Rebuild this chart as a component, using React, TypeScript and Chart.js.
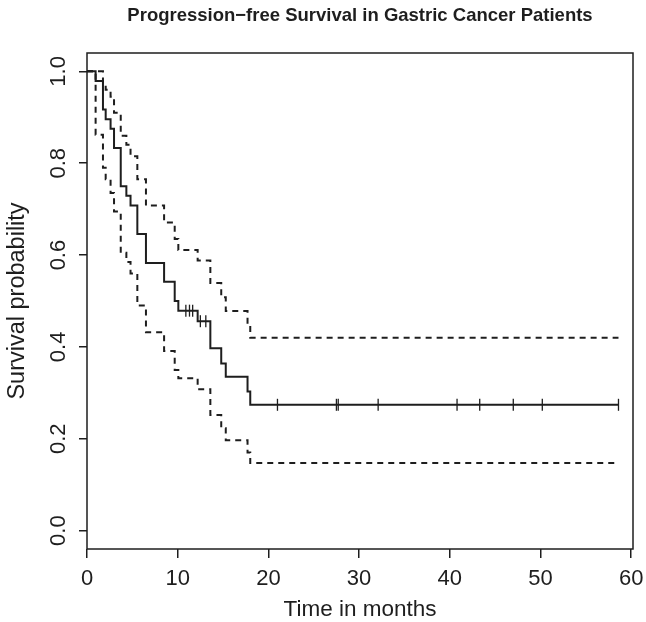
import React, { useEffect, useRef } from 'react';
import { Chart, registerables } from 'chart.js';

Chart.register(...registerables);

const TITLE = 'Progression\u2212free Survival in Gastric Cancer Patients';
const X_LABEL = 'Time in months';
const Y_LABEL = 'Survival probability';

const X_TICKS = [0, 10, 20, 30, 40, 50, 60];
const Y_TICKS = [0, 0.2, 0.4, 0.6, 0.8, 1.0];
const Y_TICK_LABELS = ['0.0', '0.2', '0.4', '0.6', '0.8', '1.0'];

// Kaplan-Meier step points (time in months)
const eventTimes = [0, 0.95, 1.76, 2.06, 2.6, 2.98, 3.72, 4.34, 4.8, 5.55, 6.5, 8.5, 9.67, 10.07, 12.2, 13.6, 14.8, 15.3, 17.7, 18.0, 58.6];
const survival = [1.0, 0.979, 0.917, 0.896, 0.875, 0.833, 0.75, 0.729, 0.708, 0.646, 0.583, 0.542, 0.5, 0.479, 0.456, 0.397, 0.364, 0.335, 0.303, 0.274, 0.274];
const upperCI = [1.0, 1.0, 0.975, 0.96, 0.945, 0.91, 0.86, 0.84, 0.815, 0.765, 0.708, 0.671, 0.635, 0.611, 0.588, 0.539, 0.508, 0.478, 0.45, 0.42, 0.42];
const lowerCI = [1.0, 0.862, 0.79, 0.765, 0.735, 0.695, 0.605, 0.585, 0.56, 0.49, 0.432, 0.391, 0.35, 0.332, 0.308, 0.252, 0.223, 0.197, 0.17, 0.147, 0.147];

// censoring times
const censorTimes = [10.9, 11.3, 11.65, 12.5, 13.1, 21.0, 27.5, 27.7, 32.1, 40.8, 43.3, 47.0, 50.2, 58.6];

const X_MIN = 0;
const X_MAX = 60.2;
const Y_MIN = -0.04;
const Y_MAX = 1.04;

export default function App() {
  const ref = useRef<HTMLCanvasElement>(null);

  useEffect(() => {
    document.body.style.margin = '0';
    const canvas = ref.current;
    if (!canvas) return;
    const ink = '#1e1e1e';
    const font = '"Liberation Sans", Arial, sans-serif';

    const toPts = (ys: number[]) => eventTimes.map((t, i) => ({ x: t, y: ys[i] }));
    const survAt = (t: number) => {
      let v = survival[0];
      for (let i = 0; i < eventTimes.length; i++) if (eventTimes[i] <= t) v = survival[i];
      return v;
    };

    const textPlugin = {
      id: 'rtext',
      afterDraw(chart: any) {
        const { ctx, chartArea: a, scales } = chart;
        ctx.save();
        ctx.strokeStyle = ink;
        ctx.lineWidth = 1.5;
        ctx.strokeRect(a.left, a.top, a.right - a.left, a.bottom - a.top);
        ctx.fillStyle = ink;
        const cx = (a.left + a.right) / 2;
        ctx.textAlign = 'center';
        ctx.textBaseline = 'alphabetic';
        ctx.font = `bold 18.5px ${font}`;
        ctx.fillText(TITLE, cx, 21);
        ctx.font = `22px ${font}`;
        X_TICKS.forEach((v) => ctx.fillText(String(v), scales.x.getPixelForValue(v), 585));
        Y_TICKS.forEach((v, i) => {
          ctx.save();
          ctx.translate(65, scales.y.getPixelForValue(v));
          ctx.rotate(-Math.PI / 2);
          ctx.fillText(Y_TICK_LABELS[i], 0, 0);
          ctx.restore();
        });
        ctx.font = `22.5px ${font}`;
        ctx.fillText(X_LABEL, cx, 616);
        ctx.font = `23.5px ${font}`;
        ctx.save();
        ctx.translate(24, (a.top + a.bottom) / 2);
        ctx.rotate(-Math.PI / 2);
        ctx.fillText(Y_LABEL, 0, 0);
        ctx.restore();
        ctx.restore();
      },
    };

    const chart = new Chart(canvas, {
      type: 'line',
      data: {
        datasets: [
          {
            label: 'Survival',
            data: toPts(survival),
            stepped: true,
            borderColor: ink,
            borderWidth: 2,
            pointRadius: 0,
            fill: false,
          },
          {
            label: 'Upper 95% CI',
            data: toPts(upperCI),
            stepped: true,
            borderColor: ink,
            borderWidth: 2,
            borderDash: [6, 5],
            pointRadius: 0,
            fill: false,
          },
          {
            label: 'Lower 95% CI',
            data: toPts(lowerCI),
            stepped: true,
            borderColor: ink,
            borderWidth: 2,
            borderDash: [6, 5],
            pointRadius: 0,
            fill: false,
          },
          {
            type: 'scatter',
            label: 'Censored',
            data: censorTimes.map((t) => ({ x: t, y: survAt(t) })),
            showLine: false,
            pointStyle: 'line',
            rotation: 90,
            pointRadius: 6,
            borderColor: ink,
            borderWidth: 1.3,
          } as any,
        ],
      },
      options: {
        responsive: false,
        animation: false,
        layout: { padding: { top: 53, left: 0, right: 13, bottom: 0 } },
        plugins: {
          legend: { display: false },
          title: { display: false },
          tooltip: { enabled: false },
        },
        scales: {
          x: {
            type: 'linear',
            min: X_MIN,
            max: X_MAX,
            afterBuildTicks: (s: any) => {
              s.ticks = X_TICKS.map((v) => ({ value: v }));
            },
            afterFit: (s: any) => {
              s.height = 73;
            },
            ticks: { display: false },
            grid: {
              display: true,
              drawOnChartArea: false,
              drawTicks: true,
              tickLength: 9,
              color: ink,
              lineWidth: 1.5,
            },
            border: { display: false },
          },
          y: {
            type: 'linear',
            min: Y_MIN,
            max: Y_MAX,
            afterBuildTicks: (s: any) => {
              s.ticks = Y_TICKS.map((v) => ({ value: v }));
            },
            afterFit: (s: any) => {
              s.width = 87;
            },
            ticks: { display: false },
            grid: {
              display: true,
              drawOnChartArea: false,
              drawTicks: true,
              tickLength: 8,
              color: ink,
              lineWidth: 1.5,
            },
            border: { display: false },
          },
        },
      },
      plugins: [textPlugin],
    });

    return () => chart.destroy();
  }, []);

  return <canvas ref={ref} width={646} height={622} style={{ display: 'block' }} />;
}
